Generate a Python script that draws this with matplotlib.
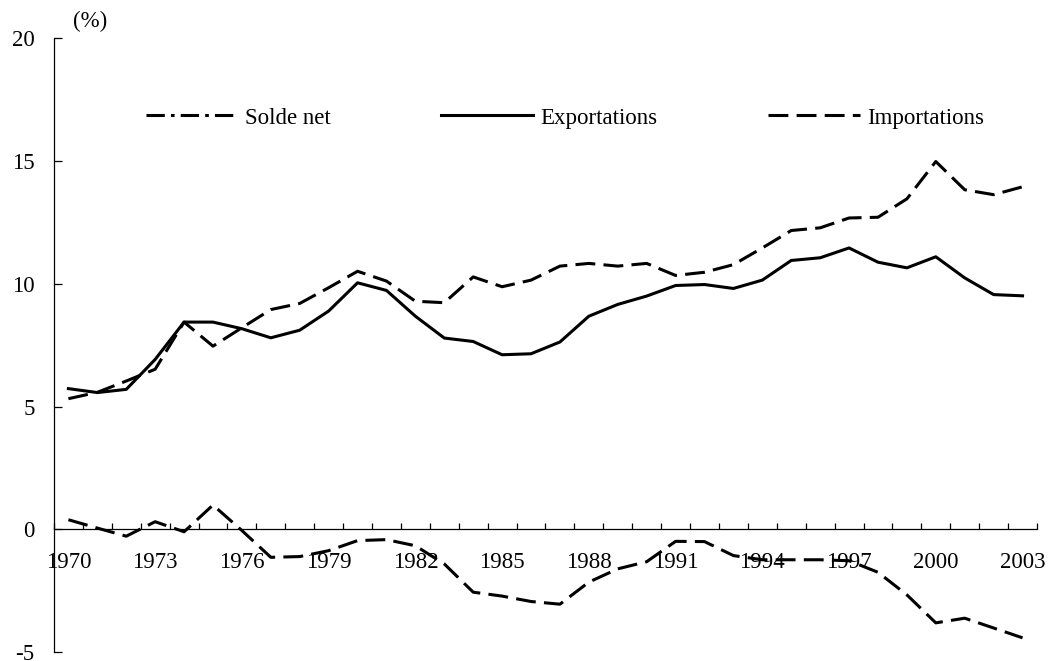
import matplotlib
matplotlib.use("Agg")
import matplotlib.pyplot as plt
from matplotlib.lines import Line2D
import numpy as np

years = list(range(1970, 2004))
exportations = [5.73, 5.57, 5.70, 6.92, 8.44, 8.44, 8.17, 7.80, 8.11, 8.89,
                10.04, 9.73, 8.68, 7.79, 7.65, 7.11, 7.15, 7.63, 8.68, 9.16,
                9.50, 9.93, 9.97, 9.81, 10.15, 10.95, 11.06, 11.46, 10.88, 10.65,
                11.10, 10.24, 9.56, 9.51]
importations = [5.32, 5.58, 6.04, 6.52, 8.44, 7.46, 8.21, 8.95, 9.20, 9.84,
                10.51, 10.11, 9.29, 9.23, 10.28, 9.88, 10.15, 10.72, 10.83, 10.72,
                10.83, 10.34, 10.47, 10.78, 11.46, 12.17, 12.28, 12.68, 12.71, 13.46,
                14.98, 13.83, 13.63, 13.95]
solde_net = [0.39, 0.05, -0.28, 0.31, -0.10, 0.99, -0.05, -1.14, -1.11, -0.87,
             -0.46, -0.42, -0.67, -1.41, -2.56, -2.72, -2.94, -3.05, -2.15, -1.61,
             -1.32, -0.49, -0.50, -1.07, -1.24, -1.24, -1.24, -1.28, -1.75, -2.67,
             -3.81, -3.62, -4.02, -4.42]
tick_years = list(range(1970, 2004, 3))
y_ticks = [-5, 0, 5, 10, 15, 20]
labels = ["Solde net", "Exportations", "Importations"]

plt.rcParams["font.family"] = ["Liberation Serif", "DejaVu Serif"]
fs = 16.5

fig = plt.figure(figsize=(10.48, 6.61), dpi=100)
ax = fig.add_axes([0.0515, 0.0135, 0.938, 0.9286])

lw = 2.2
dash = (6.5, 2.7)
ax.plot(years, solde_net, color="black", lw=lw, dashes=dash)
ax.plot(years, exportations, color="black", lw=lw)
ax.plot(years, importations, color="black", lw=lw, dashes=dash)

ax.set_xlim(1969.5, 2003.5)
ax.set_ylim(-5, 20)
ax.spines["bottom"].set_position(("data", 0))
ax.spines[["top", "right"]].set_visible(False)
for s in ("left", "bottom"):
    ax.spines[s].set_linewidth(0.9)

ax.set_xticks(tick_years)
ax.set_xticklabels([str(y) for y in tick_years], fontsize=fs)
ax.set_xticks(np.arange(1969.5, 2004, 1), minor=True)
ax.tick_params(axis="x", which="major", length=0, pad=16)
ax.tick_params(axis="x", which="minor", direction="in", length=4.5, width=0.9)
ax.set_yticks(y_ticks)
ax.set_yticklabels([str(v) for v in y_ticks], fontsize=fs)
ax.tick_params(axis="y", direction="in", length=6, width=0.9, pad=14)

fig.text(0.086, 0.968, "(%)", fontsize=fs, ha="center", va="center")

handles = [Line2D([], [], color="black", lw=lw, dashes=(6, 2, 1.2, 2)),
           Line2D([], [], color="black", lw=lw),
           Line2D([], [], color="black", lw=lw, dashes=dash)]
fig.legend(handles, labels, loc="center", bbox_to_anchor=(0.539, 0.8215),
           ncol=3, frameon=False, fontsize=fs, handlelength=4.0,
           handletextpad=0.3, columnspacing=4.85)

fig.savefig("out.png", dpi=100)
